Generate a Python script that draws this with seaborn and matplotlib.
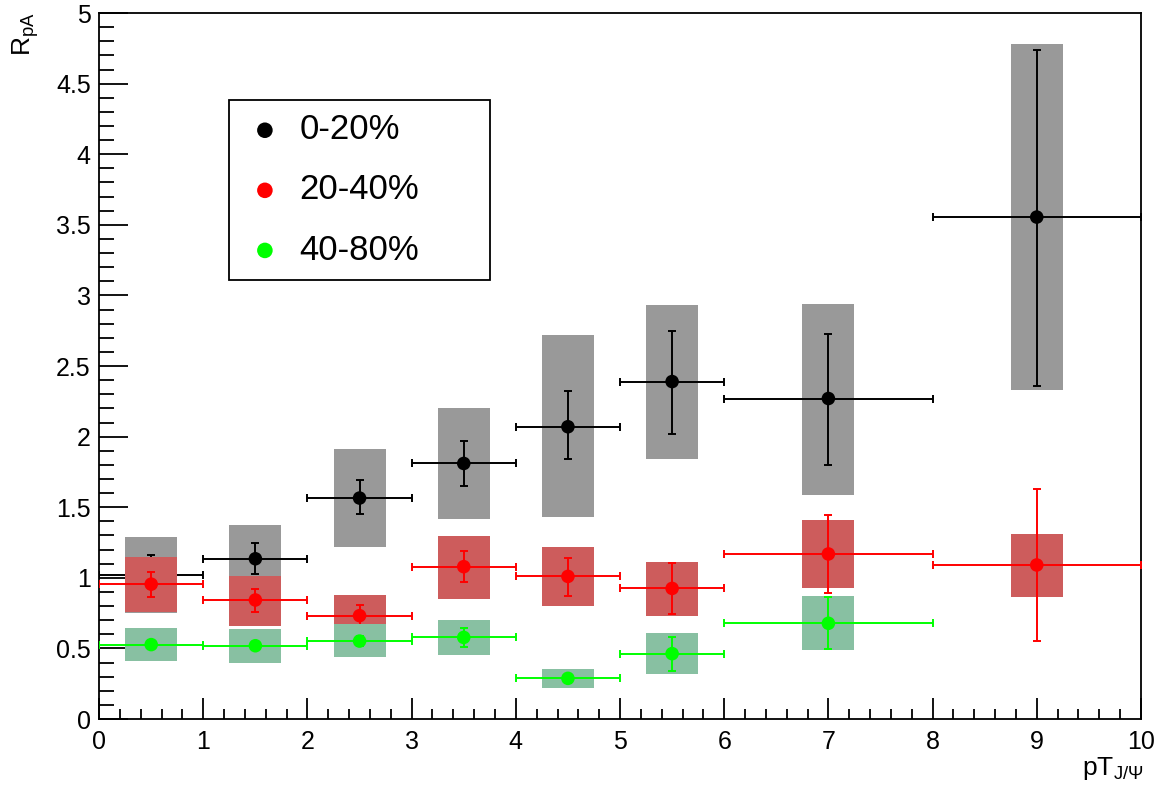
import numpy as np
import pandas as pd
import matplotlib as mpl
mpl.use("Agg")
from matplotlib import pyplot as plt
import seaborn as sns

# bins of pT (J/psi) and measured R_pA per centrality class
x_lo = [0, 1, 2, 3, 4, 5, 6, 8]
x_hi = [1, 2, 3, 4, 5, 6, 8, 10]
x_c = [0.5, 1.5, 2.5, 3.5, 4.5, 5.5, 7.0, 9.0]

# 0-20%
r_0020 = [1.02, 1.135, 1.565, 1.81, 2.07, 2.39, 2.27, 3.555]
stat_up_0020 = [1.16, 1.245, 1.69, 1.97, 2.32, 2.75, 2.73, 4.74]
stat_dn_0020 = [0.88, 1.028, 1.45, 1.65, 1.84, 2.02, 1.80, 2.36]
sys_up_0020 = [1.29, 1.376, 1.91, 2.20, 2.72, 2.93, 2.94, 4.78]
sys_dn_0020 = [0.75, 0.89, 1.22, 1.42, 1.43, 1.84, 1.59, 2.33]

# 20-40%
r_2040 = [0.955, 0.843, 0.732, 1.079, 1.01, 0.925, 1.169, 1.091]
stat_up_2040 = [1.04, 0.923, 0.807, 1.19, 1.142, 1.107, 1.445, 1.63]
stat_dn_2040 = [0.866, 0.76, 0.66, 0.968, 0.871, 0.744, 0.89, 0.555]
sys_up_2040 = [1.147, 1.013, 0.88, 1.298, 1.216, 1.112, 1.407, 1.312]
sys_dn_2040 = [0.76, 0.661, 0.64, 0.853, 0.80, 0.732, 0.93, 0.862]

# 40-80% (no point in last bin)
r_4080 = [0.527, 0.519, 0.552, 0.578, 0.288, 0.463, 0.678]
stat_up_4080 = [0.545, 0.537, 0.59, 0.642, 0.32, 0.583, 0.862]
stat_dn_4080 = [0.509, 0.501, 0.52, 0.508, 0.256, 0.342, 0.494]
sys_up_4080 = [0.642, 0.637, 0.673, 0.701, 0.352, 0.607, 0.871]
sys_dn_4080 = [0.41, 0.40, 0.437, 0.451, 0.217, 0.317, 0.487]

labels = ["0-20%", "20-40%", "40-80%"]
marker_cols = ["black", "#ff0000", "#00ff00"]
box_cols = ["#999999", "#cd5c5c", "#88c0a2"]

series = [
    (r_0020, stat_up_0020, stat_dn_0020, sys_up_0020, sys_dn_0020),
    (r_2040, stat_up_2040, stat_dn_2040, sys_up_2040, sys_dn_2040),
    (r_4080, stat_up_4080, stat_dn_4080, sys_up_4080, sys_dn_4080),
]

rows = []
for lab, (r, su, sd, yu, yd) in zip(labels, series):
    for i in range(len(r)):
        rows.append(dict(cent=lab, x=x_c[i], xlo=x_lo[i], xhi=x_hi[i], r=r[i],
                         su=su[i], sd=sd[i], yu=yu[i], yd=yd[i]))
df = pd.DataFrame(rows)

sns.set_style("white")
plt.rcParams['font.family'] = ['Liberation Sans', 'DejaVu Sans']
plt.rcParams['mathtext.fontset'] = 'custom'
plt.rcParams['mathtext.rm'] = 'Liberation Sans'
plt.rcParams['mathtext.it'] = 'Liberation Sans:italic'
plt.rcParams['text.color'] = 'black'

fig = plt.figure(figsize=(11.66, 7.91), dpi=100)
ax = fig.add_axes([0.085, 0.091, 0.8935, 0.8925])

# each class: box, error bars, markers; later classes sit on top
z = 2
for lab, mc, bc in zip(labels, marker_cols, box_cols):
    d = df[df.cent == lab]
    ax.bar(d.x, d.yu - d.yd, bottom=d.yd, width=0.5, color=bc, linewidth=0, zorder=z)
    ax.errorbar(d.x, d.r, yerr=[d.r - d.sd, d.su - d.r],
                xerr=[d.x - d.xlo, d.xhi - d.x], fmt='none', ecolor=mc,
                elinewidth=1.4, capsize=3.2, capthick=1.4, zorder=z + 1)
    sns.scatterplot(data=d, x='x', y='r', color=mc, s=95, edgecolor='none',
                    label=lab, zorder=z + 2, ax=ax)
    z += 3

ax.set_xlim(0, 10)
ax.set_ylim(0, 5)
ax.set_xticks(np.arange(0, 11, 1))
ax.set_xticks(np.arange(0, 10.01, 0.2), minor=True)
ax.set_yticks(np.arange(0, 5.01, 0.5))
ax.set_yticks(np.arange(0, 5.01, 0.1), minor=True)
ax.set_yticklabels(["0", "0.5", "1", "1.5", "2", "2.5", "3", "3.5", "4", "4.5", "5"])
ax.tick_params(axis='both', which='both', direction='in', labelsize=18,
               color='black', labelcolor='black', width=1.3,
               bottom=True, left=True, top=False, right=False)
ax.tick_params(axis='y', which='major', length=21, pad=6)
ax.tick_params(axis='y', which='minor', length=11)
ax.tick_params(axis='x', which='major', length=15, pad=8)
ax.tick_params(axis='x', which='minor', length=7)
for sp in ax.spines.values():
    sp.set_color('black')
    sp.set_linewidth(1.3)
ax.set_xlabel('')
ax.set_ylabel('')

fig.text(0.022, 0.985, r'R$_{\mathrm{pA}}$', rotation=90, ha='center', va='top', fontsize=19)
fig.text(0.981, 0.046, r'pT$_{\mathrm{J/\Psi}}$', ha='right', va='top', fontsize=19)

leg = ax.legend(loc='upper left', bbox_to_anchor=(0.1248, 0.6255, 0.2502, 0.2511),
                mode='expand', fontsize=25, frameon=True, fancybox=False,
                edgecolor='black', framealpha=1, borderpad=0.38,
                handlelength=1.3, handletextpad=0.35, labelspacing=0.78,
                borderaxespad=0, markerscale=1.15)
leg.get_frame().set_linewidth(1.3)
leg.set_zorder(30)

fig.savefig('out.png', dpi=100)
